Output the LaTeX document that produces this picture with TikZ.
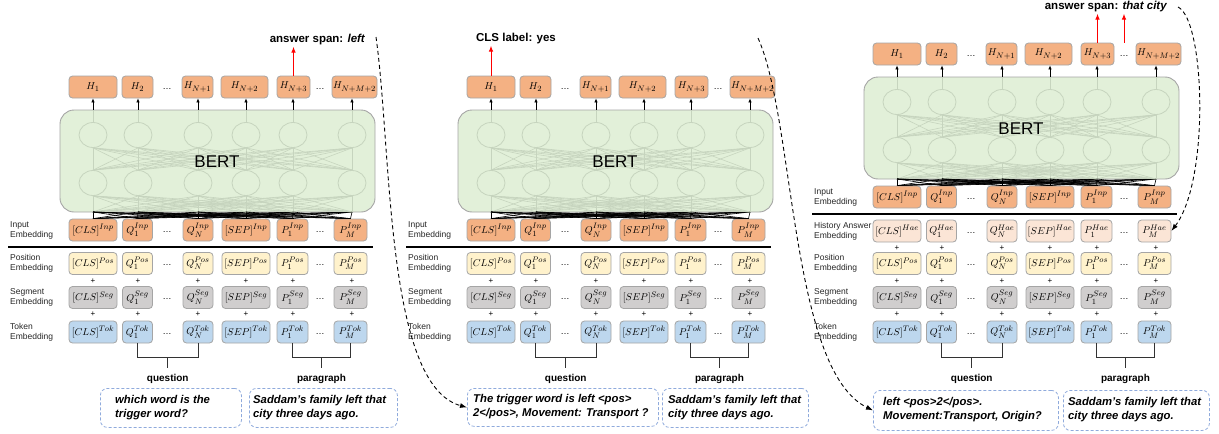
\documentclass[tikz,border=0pt]{standalone}
\usepackage{fontspec}
\setmainfont{Liberation Sans}
\DeclareMathSizes{10}{10}{8}{6}
\usepackage{tikz}
\usetikzlibrary{arrows.meta, calc, shapes.geometric}
\definecolor{hOrange}{HTML}{F4B183}
\definecolor{posYellow}{HTML}{FFF2CC}
\definecolor{segGray}{HTML}{D0CECE}
\definecolor{tokBlue}{HTML}{BDD7EE}
\definecolor{haePink}{HTML}{FBE5D6}
\definecolor{bertGreen}{HTML}{E2F0D9}
\definecolor{boxGray}{HTML}{A5A5A5}
\definecolor{netGray}{HTML}{C6D4BE}
\definecolor{dashBlue}{HTML}{8FAADC}
\def\colxs{93,138,198,246,293,352}

\tikzset{
  emb/.style={draw=boxGray, line width=0.8pt, rounded corners=3.5pt, minimum height=22pt, inner sep=0pt, font=\fontsize{10}{11}\selectfont},
  bertbox/.style={draw=boxGray, line width=0.9pt, fill=bertGreen, rounded corners=14pt, minimum width=315pt, minimum height=102pt, inner sep=0pt},
  neuron/.style={ellipse, draw=netGray, line width=0.8pt, minimum width=28pt, minimum height=25pt, inner sep=0pt},
  net/.style={draw=netGray, line width=0.6pt},
  fan/.style={black, line width=0.6pt},
  tinyarrow/.style={-{Latex[length=4pt,width=3.5pt]}, black, line width=0.7pt},
  redarrow/.style={-{Latex[length=6pt,width=4.5pt]}, red, line width=1pt},
  curvearrow/.style={-{Latex[length=7pt,width=5pt]}, black, line width=0.9pt, dash pattern=on 4pt off 3pt},
  rowlabel/.style={anchor=west, align=left, font=\fontsize{8.5}{10}\selectfont, text=black!85, inner sep=0pt},
  dotsnode/.style={font=\fontsize{9}{10}\selectfont, inner sep=0pt},
  plusnode/.style={font=\fontsize{8}{9}\selectfont, inner sep=0pt},
  bracket/.style={black!80, line width=0.9pt},
  partlabel/.style={font=\fontsize{10}{12}\selectfont\bfseries, inner sep=0pt},
  toplabel/.style={font=\fontsize{11.5}{13}\selectfont\bfseries, inner sep=1pt},
  textbox/.style={draw=dashBlue, line width=0.8pt, dash pattern=on 3pt off 2pt, rounded corners=7pt, anchor=north west, inner sep=0pt},
  boxtext/.style={anchor=west, align=left, font=\fontsize{11.3}{14}\selectfont\bfseries\itshape, inner sep=0pt},
}

% one row of embedding boxes: prefix, row, y, fill, superscript, label
\newcommand{\embrow}[6]{%
  \node[rowlabel] (#1-#2lab) at (10,#3) {#6};
  \foreach \x/\w/\lbl [count=\i] in {93/48pt/{[CLS]},137.5/30pt/Q_1,198/30pt/Q_N,246/48pt/{[SEP]},292.5/31pt/P_1,350.5/33pt/P_M}
    \node[emb, fill=#4, minimum width=\w] (#1-#2\i) at (\x,#3) {$\lbl^{#5}$};
  \node[dotsnode] (#1-#2d1) at (167,#3+2) {\dots};
  \node[dotsnode] (#1-#2d2) at (320,#3+2) {\dots};
}
\newcommand{\plusrow}[3]{%
  \foreach \x [count=\i] in \colxs
    \node[plusnode] (#1-#2\i) at (\x,#3) {+};
}
\newcommand{\bertblock}[1]{%
  \foreach \x/\w/\lbl [count=\i] in {93/48pt/H_1,137.5/31pt/H_2,197.5/31pt/H_{N+1},244.5/47pt/H_{N+2},293.5/33pt/H_{N+3},354.5/45pt/H_{N+M+2}}
    \node[emb, fill=hOrange, minimum width=\w] (#1-h\i) at (\x,87) {$\lbl$};
  \node[dotsnode] (#1-hd1) at (167,89) {\dots};
  \node[dotsnode] (#1-hd2) at (320,89) {\dots};
  \node[bertbox] (#1-bert) at (217.5,161) {};
  \foreach \x [count=\i] in \colxs {
    \coordinate (#1-t\i) at (\x,110);
    \coordinate (#1-b\i) at (\x,212);
    \node[neuron] (#1-u\i) at (\x,135) {};
    \node[neuron] (#1-l\i) at (\x,183) {};
  }
  \embrow{#1}{in}{230}{hOrange}{Inp}{Input\\Embedding}
  \foreach \i in {1,...,6} {
    \draw[net] (#1-u\i.north) -- (#1-t\i);
    \draw[tinyarrow] (#1-t\i) -- (#1-t\i |- #1-h\i.south);
    \foreach \j in {1,...,6} {
      \draw[net] (#1-b\i) -- (#1-l\j.south);
      \draw[net] (#1-l\i.north) -- (#1-u\j.south);
      \draw[fan] (#1-in\i.north) -- (#1-b\j);
    }
  }
  \node[font=\fontsize{17}{20}\selectfont] (#1-bertlab) at (217,162) {BERT};
  \draw[line width=2.5pt] (8,247) -- (373,247);
}
\newcommand{\lowerblock}[1]{%
  \embrow{#1}{pos}{263.5}{posYellow}{Pos}{Position\\Embedding}
  \plusrow{#1}{pa}{281}
  \embrow{#1}{seg}{297.5}{segGray}{Seg}{Segment\\Embedding}
  \plusrow{#1}{pb}{314}
  \embrow{#1}{tok}{332}{tokBlue}{Tok}{Token\\Embedding}
  \path (#1-tok2.south) -- (#1-tok3.south) coordinate[midway] (#1-qm);
  \path (#1-tok5.south) -- (#1-tok6.south) coordinate[midway] (#1-pm);
  \draw[bracket] (#1-tok2.south) -- ++(0,14) -| (#1-tok3.south);
  \draw[bracket] (#1-tok5.south) -- ++(0,14) -| (#1-tok6.south);
  \draw[bracket] (#1-qm) ++(0,14) -- ++(0,11) coordinate (#1-qend);
  \draw[bracket] (#1-pm) ++(0,14) -- ++(0,11) coordinate (#1-pend);
  \node[partlabel, below=6pt] (#1-qlab) at (#1-qend) {question};
  \node[partlabel, below=6pt] (#1-plab) at (#1-pend) {paragraph};
}

\begin{document}
\begin{tikzpicture}[x=1pt, y=-1pt]
  \useasboundingbox (0,0) rectangle (1219,434);

  % extraction model
  \bertblock{a}
  \lowerblock{a}
  \node[toplabel] (a-ans) at (317.5,40) {answer span: \textit{left}};
  \draw[redarrow] (a-h5.north) -- (a-h5.north |- a-ans.south);
  \node[textbox, minimum width=141pt, minimum height=39pt] (a-qbox) at (100,388) {};
  \node[boxtext] (a-qtext) at (115,408) {which word is the\\trigger word?};
  \node[textbox, minimum width=148pt, minimum height=39pt] (a-pbox) at (249,388) {};
  \node[boxtext] (a-ptext) at (253,408) {Saddam's family left that\\city three days ago.};

  % classification model
  \begin{scope}[shift={(398,0)}]
    \bertblock{b}
    \lowerblock{b}
  \end{scope}
  \node[toplabel] (b-cls) at (516,39) {CLS label: yes};
  \draw[redarrow] (b-h1.north) -- (b-h1.north |- b-cls.south);
  \node[textbox, minimum width=191pt, minimum height=38pt] (b-qbox) at (467,388) {};
  \node[boxtext] (b-qtext) at (473,406.5) {The trigger word is left <pos>\\2</pos>, Movement: Transport ?};
  \node[textbox, minimum width=146pt, minimum height=39pt] (b-pbox) at (662,388) {};
  \node[boxtext] (b-ptext) at (668,408) {Saddam's family left that\\city three days ago.};

  % argument model with history answers
  \begin{scope}[shift={(804,-33)}]
    \bertblock{c}
  \end{scope}
  \begin{scope}[shift={(804,0)}]
    \embrow{c}{hae}{231}{haePink}{Hae}{History Answer\\Embedding}
    \plusrow{c}{ph}{248}
    \lowerblock{c}
  \end{scope}
  \node[toplabel] (c-ans) at (1106,7) {answer span: \textit{that city}};
  \draw[redarrow] (c-h5.north) -- (c-h5.north |- c-ans.south);
  \draw[redarrow] (c-hd2 |- c-h5.north) -- (c-hd2 |- c-ans.south);
  \node[textbox, minimum width=185pt, minimum height=40pt] (c-qbox) at (873,390) {};
  \node[boxtext] (c-qtext) at (883,410) {left <pos>2</pos>.\\Movement:Transport, Origin?};
  \node[textbox, minimum width=146pt, minimum height=40pt] (c-pbox) at (1063,390) {};
  \node[boxtext] (c-ptext) at (1068,410) {Saddam's family left that\\city three days ago.};

  \coordinate (a-cs) at (376,37);
  \coordinate (b-cs) at (758,38);
  \coordinate (c-cs) at (1178,7);
  \draw[curvearrow] (a-cs) .. controls (392,150) and (385,385) .. (b-qbox.west);
  \draw[curvearrow] (b-cs) .. controls (795,120) and (790,370) .. (c-qbox.west);
  \draw[curvearrow] (c-cs) .. controls (1205,20) and (1210,180) .. (c-hae6.east);
\end{tikzpicture}
\end{document}
